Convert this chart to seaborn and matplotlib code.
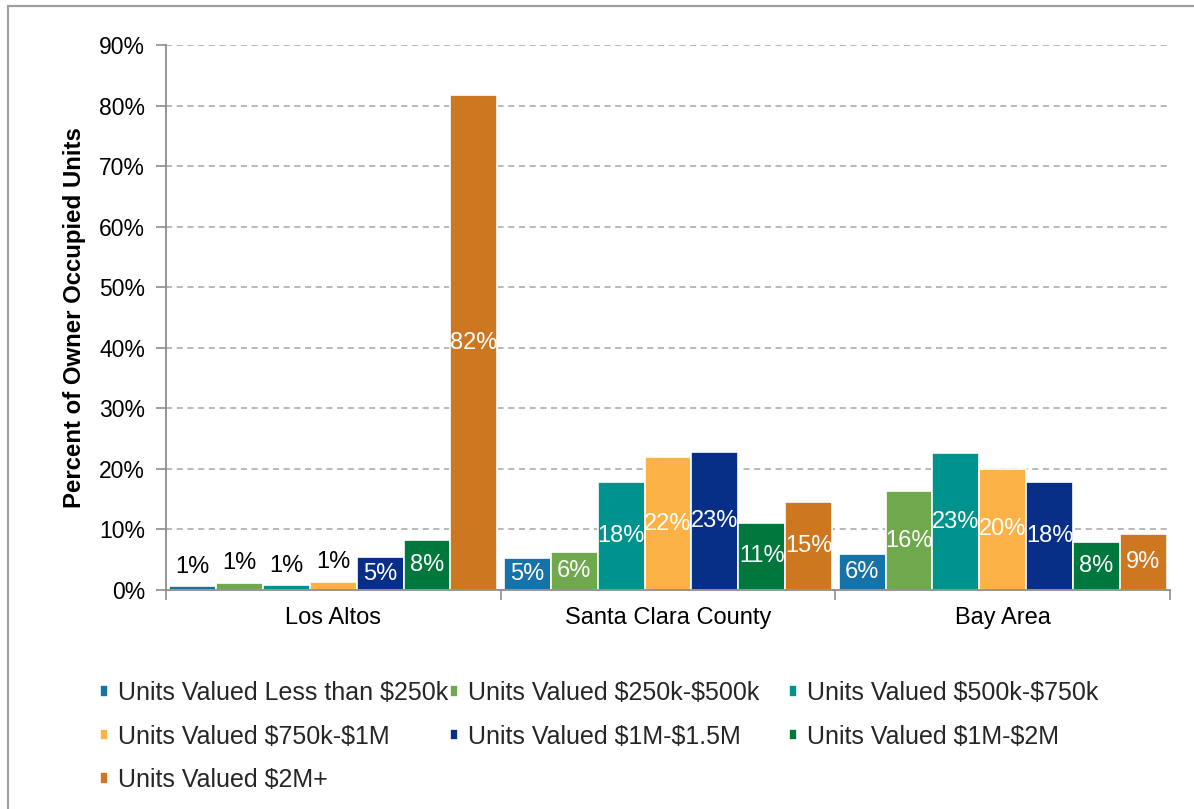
import matplotlib
matplotlib.use("Agg")
import matplotlib.pyplot as plt
from matplotlib.patches import Rectangle
import numpy as np
import pandas as pd
import seaborn as sns

# Share of owner-occupied units by home value band, per geography (percent)
regions = ["Los Altos", "Santa Clara County", "Bay Area"]
value_bands = [
    "Units Valued Less than $250k",
    "Units Valued $250k-$500k",
    "Units Valued $500k-$750k",
    "Units Valued $750k-$1M",
    "Units Valued $1M-$1.5M",
    "Units Valued $1M-$2M",
    "Units Valued $2M+",
]
los_altos = [0.6, 1.2, 0.8, 1.4, 5.4, 8.2, 81.7]
santa_clara = [5.3, 6.3, 17.8, 21.9, 22.8, 11.1, 14.6]
bay_area = [6.0, 16.3, 22.6, 20.0, 17.9, 7.9, 9.2]
y_ticks = [0, 10, 20, 30, 40, 50, 60, 70, 80, 90]

band_colors = ["#1673A8", "#70A84E", "#00938E", "#FCB247",
               "#082F87", "#00773D", "#CD7721"]

rows = []
for region, vals in zip(regions, [los_altos, santa_clara, bay_area]):
    for band, v in zip(value_bands, vals):
        rows.append({"region": region, "band": band, "pct": v})
df = pd.DataFrame(rows)

sns.set_theme(style="white")
plt.rcParams["font.family"] = ["Liberation Sans", "DejaVu Sans"]
plt.rcParams["text.parse_math"] = False

fig = plt.figure(figsize=(11.94, 8.09), dpi=100)
ax = fig.add_axes([166 / 1194, 1 - 590 / 809, 1004 / 1194, 545 / 809])

sns.barplot(data=df, x="region", y="pct", hue="band", order=regions,
            hue_order=value_bands, palette=band_colors, saturation=1,
            width=0.98, edgecolor="white", linewidth=1.2, ax=ax,
            errorbar=None)

handles, labels = ax.get_legend_handles_labels()
ax.get_legend().remove()

# value labels: white inside bars, black above the very short ones
for cont in ax.containers:
    vals = cont.datavalues
    inner = [f"{v:.0f}%" if v >= 3 else "" for v in vals]
    outer = [f"{v:.0f}%" if v < 3 else "" for v in vals]
    ax.bar_label(cont, labels=inner, label_type="center", color="white",
                 fontsize=17)
    ax.bar_label(cont, labels=outer, label_type="edge", color="black",
                 fontsize=17, padding=6)

ax.set_ylim(0, 90)
ax.set_yticks(y_ticks)
ax.set_yticklabels([f"{t}%" for t in y_ticks], fontsize=16.5)
ax.set_xlim(-0.5, len(regions) - 0.5)

# category boundaries carry the tick marks, names sit at the centers
ax.set_xticks(np.arange(-0.5, len(regions)), labels=[""] * (len(regions) + 1))
ax.set_xticks(np.arange(len(regions)), labels=regions, minor=True)
ax.tick_params(axis="x", which="minor", length=0, pad=12, labelsize=17,
               colors="black")
ax.tick_params(axis="x", which="major", length=7, width=1.2,
               color="#8C8C8C", direction="out", bottom=True)
ax.tick_params(axis="y", length=7, width=1.2, color="#8C8C8C",
               direction="out", left=True, pad=8, labelcolor="black")

ax.yaxis.grid(True, linestyle=(0, (4, 3)), color="#A6A6A6", linewidth=1.1)
ax.set_axisbelow(True)
for side in ["top", "right"]:
    ax.spines[side].set_visible(False)
for side in ["left", "bottom"]:
    ax.spines[side].set_color("#8C8C8C")
    ax.spines[side].set_linewidth(1.3)

ax.set_xlabel("")
ax.set_ylabel("Percent of Owner Occupied Units", fontsize=17.3,
              fontweight="bold", color="black")
ax.yaxis.set_label_coords(-0.080, 0.5)

# legend laid out row by row in three columns
columns = [[0, 3, 6], [1, 4], [2, 5]]
col_x = [100, 450, 789]
for idx, x in zip(columns, col_x):
    fig.legend([handles[i] for i in idx], [labels[i] for i in idx],
               loc="upper left", bbox_to_anchor=(x / 1194, 1 - 681 / 809),
               frameon=False, fontsize=18, handlelength=0.33,
               handleheight=0.33, handletextpad=0.4, labelspacing=0.78,
               borderpad=0, borderaxespad=0)

# chart border
fig.add_artist(Rectangle((8 / 1194, -0.05), 1.05, 1 - 6 / 809 + 0.05,
                         transform=fig.transFigure, fill=False,
                         edgecolor="#A0A0A0", linewidth=1.6))

fig.savefig("out.png", dpi=100)
